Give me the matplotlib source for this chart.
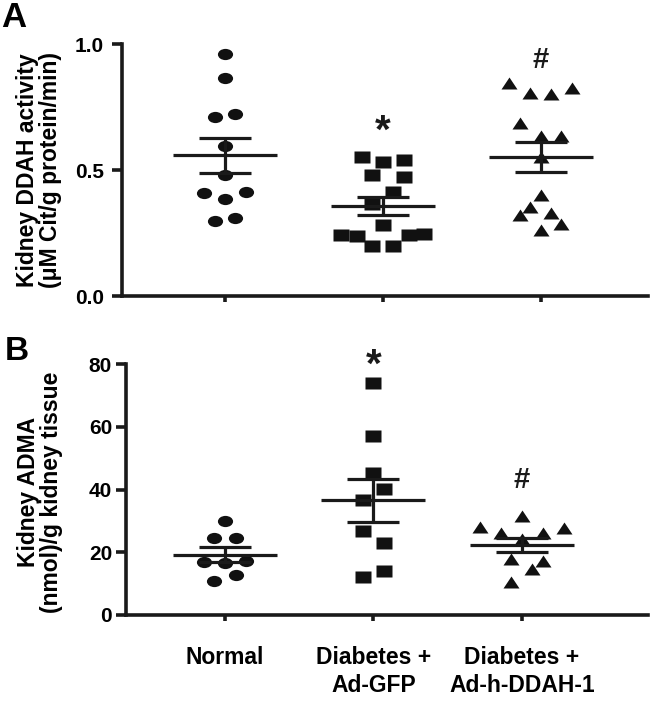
import numpy as np
import matplotlib
matplotlib.use("Agg")
from matplotlib import pyplot as plt
from matplotlib.markers import MarkerStyle
from matplotlib.transforms import Affine2D

plt.rcParams['font.family'] = ['Liberation Sans', 'DejaVu Sans']
plt.rcParams['font.weight'] = 'bold'

groups = ['Normal', 'Diabetes +\nAd-GFP', 'Diabetes +\nAd-h-DDAH-1']

# panel A: kidney DDAH activity
ddah_normal = [0.961, 0.865, 0.709, 0.724, 0.597, 0.480, 0.407, 0.384, 0.413, 0.296, 0.310]
ddah_gfp = [0.550, 0.533, 0.540, 0.480, 0.471, 0.414, 0.365, 0.282,
            0.242, 0.238, 0.198, 0.198, 0.242, 0.246]
ddah_ddah = [0.844, 0.807, 0.802, 0.824, 0.685, 0.635, 0.635, 0.553,
             0.401, 0.354, 0.321, 0.328, 0.286, 0.262]
# scatter column slots (beeswarm arrangement)
slot_a_normal = [0, 0, -1, 1, 0, 0, -2, 0, 2, -1, 1]
slot_a_gfp = [-2, 0, 2, -1, 2, 1, -1, 0, -4, -2.5, -1, 1, 2.5, 4]
slot_a_ddah = [-3, -1, 1, 3, -2, 0, 2, 0, 0, -1, -2, 1, 2, 0]

# panel B: kidney ADMA
adma_normal = [29.9, 24.7, 24.7, 16.9, 16.7, 17.2, 10.9, 12.9]
adma_gfp = [73.9, 56.9, 45.1, 40.2, 36.8, 26.8, 23.1, 12.2, 13.9]
adma_ddah = [31.5, 28.1, 26.2, 26.0, 27.6, 24.1, 18.0, 17.2, 14.8, 10.4]
slot_b_normal = [0, -1, 1, -2, 0, 2, -1, 1]
slot_b_gfp = [0, 0, 0, 1, -1, -1, 1, -1, 1]
slot_b_ddah = [0, -4, -2, 2, 4, 0, -1, 2, 1, -1]

sig_a = ['', '*', '#']
sig_a_y = [0, 0.65, 0.935]
sig_b = ['', '*', '#']
sig_b_y = [0, 79.3, 43.0]


def mk(shape):
    return MarkerStyle(shape, transform=Affine2D().scale(1.15, 0.85))


markers = [mk('o'), mk('s'), mk('^')]
msizes = [9.5, 10, 10.5]

fig = plt.figure(figsize=(6.5, 7.04), dpi=100)
axA = fig.add_axes([122 / 650, 1 - 296 / 704, 526 / 650, 252 / 704])
axB = fig.add_axes([126 / 650, 1 - 615 / 704, 522 / 650, 251 / 704])


def panel(ax, data, slots, slot_w, half, sigs, sig_y, ypad):
    for i, (vals, sl) in enumerate(zip(data, slots)):
        vals = np.array(vals)
        x = i + np.array(sl) * slot_w
        ax.plot(x, vals, linestyle='none', marker=markers[i], ms=msizes[i],
                color='#111111', mec='none', zorder=2)
        m = vals.mean()
        sem = vals.std(ddof=1) / np.sqrt(len(vals))
        ax.hlines(m, i - half, i + half, color='#1a1a1a', lw=2.3, zorder=3)
        ax.hlines([m - sem, m + sem], i - half / 2, i + half / 2, color='#1a1a1a', lw=2.3, zorder=3)
        ax.vlines(i, m - sem, m + sem, color='#1a1a1a', lw=2.3, zorder=3)
        if sigs[i]:
            ax.text(i, sig_y[i], sigs[i], ha='center', va='center',
                    fontsize=29 if sigs[i] == '*' else 21, fontweight='bold',
                    color='#1a1a1a')
    ax.spines['top'].set_visible(False)
    ax.spines['right'].set_visible(False)
    for s in ['left', 'bottom']:
        ax.spines[s].set_linewidth(2.6)
        ax.spines[s].set_color('#1a1a1a')
    ax.tick_params(axis='y', width=2.6, length=7, labelsize=15, pad=ypad, color='#1a1a1a')
    ax.tick_params(axis='x', width=2.6, length=4, pad=18, color='#1a1a1a')
    ax.set_xticks(range(3))


panel(axA, [ddah_normal, ddah_gfp, ddah_ddah], [slot_a_normal, slot_a_gfp, slot_a_ddah],
      0.066, 0.33, sig_a, sig_a_y, 6)
axA.set_xlim(-0.652, 2.68)
axA.set_ylim(0, 1.0)
axA.set_yticks([0, 0.5, 1.0])
axA.set_yticklabels(['0.0', '0.5', '1.0'])
axA.set_xticklabels([])
axA.set_ylabel('Kidney DDAH activity\n(\u03bcM Cit/g protein/min)', fontsize=16.5,
               fontweight='bold', va='center', linespacing=0.98)
axA.yaxis.set_label_coords(-0.158, 0.5)

panel(axB, [adma_normal, adma_gfp, adma_ddah], [slot_b_normal, slot_b_gfp, slot_b_ddah],
      0.071, 0.35, sig_b, sig_b_y, 3)
axB.set_xlim(-0.667, 2.85)
axB.set_ylim(0, 80)
axB.set_yticks([0, 20, 40, 60, 80])
axB.set_xticklabels(groups, fontsize=16.5, fontweight='bold', linespacing=1.3)
axB.set_ylabel('Kidney ADMA\n(nmol)/g kidney tissue', fontsize=16.5,
               fontweight='bold', va='center', linespacing=0.98)
axB.yaxis.set_label_coords(-0.165, 0.49)

fig.text(1 / 650, 1 - 1 / 704, 'A', fontsize=25, fontweight='bold', ha='left', va='top')
fig.text(5 / 650, 1 - 336 / 704, 'B', fontsize=24, fontweight='bold', ha='left', va='top')

fig.savefig('out.png', dpi=100)
